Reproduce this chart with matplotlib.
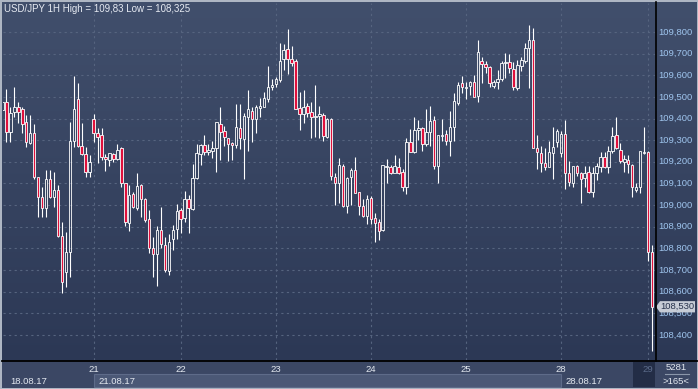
import numpy as np
import matplotlib
matplotlib.use("Agg")
import matplotlib.pyplot as plt
from matplotlib.patches import Rectangle, Polygon
from matplotlib.lines import Line2D
from matplotlib.transforms import blended_transform_factory

plt.rcParams['font.family'] = ['Liberation Sans', 'DejaVu Sans']

# hourly USD/JPY candles, 18.08.17 .. 29.08.17
opens = [
    109.440, 109.478, 109.339, 109.429, 109.452, 109.443, 109.383, 109.289, 109.332, 109.131, 109.036, 108.985,
    109.119, 109.036, 109.070, 108.859, 108.689, 108.785, 109.296, 109.489, 109.275, 109.235, 109.152,
    # 21
    109.396, 109.332, 109.324, 109.224, 109.209, 109.235, 109.212, 109.262, 109.101, 108.919, 109.050, 108.988,
    109.093, 109.027, 108.934, 108.800, 108.773, 108.885, 108.816, 108.697, 108.842, 108.888,
    # 22
    108.977, 108.939, 109.028, 108.982, 109.124, 109.236, 109.278, 109.244, 109.250, 109.266, 109.373, 109.343,
    109.309, 109.286, 109.278, 109.355, 109.304, 109.409, 109.435, 109.398, 109.450, 109.455, 109.492, 109.547,
    # 23
    109.560, 109.578, 109.674, 109.720, 109.674, 109.666, 109.447, 109.420, 109.458, 109.429, 109.409, 109.413,
    109.416, 109.313, 109.398, 109.132, 109.101, 109.182, 108.998, 109.128, 109.162, 109.059, 108.996, 108.951,
    # 24
    109.031, 108.939, 108.920, 108.885, 109.175, 109.175, 109.150, 109.175, 109.152, 109.085, 109.290, 109.247,
    109.347, 109.355, 109.282, 109.340, 109.393, 109.182, 109.321, 109.327, 109.298, 109.360, 109.473, 109.563,
    # 25
    109.543, 109.551, 109.567, 109.504, 109.668, 109.652, 109.637, 109.552, 109.571, 109.581, 109.655, 109.660,
    109.628, 109.540, 109.644, 109.668, 109.725, 109.763, 109.263, 109.239, 109.193, 109.178, 109.239, 109.293,
    # 28
    109.242, 109.329, 109.147, 109.104, 109.182, 109.147, 109.124, 109.152, 109.062, 109.147, 109.178, 109.224,
    109.178, 109.252, 109.324, 109.255, 109.201, 109.209, 109.185, 109.070, 109.082, 109.239,
    # 29
    109.244, 108.785,
]
highs = [
    109.478, 109.535, 109.455, 109.544, 109.478, 109.455, 109.416, 109.416, 109.375, 109.131, 109.085, 109.162,
    109.162, 109.152, 109.093, 108.924, 108.874, 109.386, 109.597, 109.566, 109.381, 109.267, 109.232,
    109.421, 109.355, 109.355, 109.235, 109.242, 109.239, 109.282, 109.270, 109.101, 109.093, 109.062, 109.147,
    109.098, 109.031, 108.977, 108.851, 108.904, 108.993, 108.854, 108.867, 108.908, 109.005,
    108.985, 109.065, 109.047, 109.190, 109.282, 109.282, 109.324, 109.282, 109.296, 109.383, 109.452, 109.367,
    109.309, 109.293, 109.467, 109.467, 109.424, 109.532, 109.455, 109.463, 109.494, 109.524, 109.643, 109.581,
    109.594, 109.748, 109.745, 109.812, 109.735, 109.674, 109.524, 109.532, 109.473, 109.478, 109.555, 109.458,
    109.427, 109.401, 109.401, 109.147, 109.219, 109.190, 109.132, 109.170, 109.224, 109.062, 109.028, 109.047,
    109.044, 108.965, 108.934, 109.185, 109.212, 109.185, 109.232, 109.216, 109.167, 109.309, 109.352, 109.406,
    109.393, 109.360, 109.443, 109.458, 109.412, 109.324, 109.398, 109.347, 109.435, 109.520, 109.571, 109.597,
    109.571, 109.574, 109.601, 109.763, 109.683, 109.668, 109.644, 109.578, 109.624, 109.668, 109.701, 109.697,
    109.663, 109.671, 109.686, 109.748, 109.832, 109.817, 109.324, 109.273, 109.263, 109.298, 109.360, 109.352,
    109.343, 109.393, 109.205, 109.182, 109.185, 109.155, 109.182, 109.182, 109.178, 109.193, 109.247, 109.247,
    109.273, 109.360, 109.409, 109.289, 109.232, 109.232, 109.190, 109.101, 109.252, 109.363,
    109.250, 108.816,
]
lows = [
    109.440, 109.293, 109.293, 109.406, 109.378, 109.335, 109.270, 109.282, 109.121, 108.944, 108.944, 108.944,
    109.031, 108.993, 108.854, 108.592, 108.623, 108.669, 109.267, 109.267, 109.232, 109.128, 109.128,
    109.293, 109.193, 109.209, 109.159, 109.181, 109.201, 109.209, 109.085, 108.905, 108.882, 108.985, 108.977,
    108.947, 108.924, 108.780, 108.669, 108.628, 108.803, 108.692, 108.677, 108.793, 108.842,
    108.873, 108.924, 108.873, 108.977, 109.121, 109.185, 109.232, 109.232, 109.216, 109.155, 109.209, 109.275,
    109.204, 109.209, 109.262, 109.259, 109.119, 109.252, 109.293, 109.332, 109.409, 109.452, 109.478, 109.532,
    109.547, 109.571, 109.624, 109.606, 109.644, 109.443, 109.347, 109.378, 109.409, 109.312, 109.316, 109.312,
    109.298, 109.309, 109.116, 109.001, 109.011, 108.993, 108.965, 109.001, 109.055, 108.954, 108.947, 108.913,
    108.913, 108.831, 108.839, 108.882, 109.104, 109.144, 109.147, 109.144, 109.067, 109.051, 109.244, 109.242,
    109.301, 109.252, 109.273, 109.273, 109.167, 109.104, 109.298, 109.278, 109.227, 109.298, 109.463, 109.520,
    109.492, 109.509, 109.498, 109.478, 109.566, 109.609, 109.544, 109.540, 109.537, 109.575, 109.586, 109.609,
    109.532, 109.532, 109.621, 109.655, 109.540, 109.263, 109.165, 109.155, 109.162, 109.175, 109.119, 109.270,
    109.224, 109.073, 109.088, 109.085, 109.135, 109.011, 109.085, 109.058, 109.039, 109.116, 109.155, 109.170,
    109.150, 109.242, 109.258, 109.193, 109.155, 109.150, 109.039, 109.062, 109.058, 109.236,
    108.743, 108.325,
]
closes = [
    109.478, 109.339, 109.424, 109.452, 109.432, 109.373, 109.290, 109.332, 109.128, 109.036, 108.985, 109.119,
    109.036, 109.070, 108.859, 108.643, 108.785, 109.296, 109.443, 109.275, 109.235, 109.152, 109.201,
    109.332, 109.313, 109.221, 109.212, 109.239, 109.212, 109.255, 109.101, 108.924, 109.047, 108.993, 109.088,
    109.027, 108.931, 108.800, 108.773, 108.885, 108.819, 108.700, 108.831, 108.885, 108.973,
    108.934, 109.028, 108.985, 109.124, 109.239, 109.278, 109.244, 109.255, 109.262, 109.383, 109.339, 109.313,
    109.282, 109.278, 109.360, 109.309, 109.412, 109.443, 109.396, 109.452, 109.458, 109.494, 109.544, 109.554,
    109.581, 109.668, 109.717, 109.674, 109.658, 109.443, 109.420, 109.452, 109.424, 109.409, 109.413, 109.420,
    109.321, 109.398, 109.135, 109.101, 109.185, 108.998, 109.124, 109.162, 109.058, 108.996, 108.951, 109.028,
    108.934, 108.916, 108.882, 109.185, 109.181, 109.150, 109.181, 109.150, 109.082, 109.290, 109.247, 109.347,
    109.355, 109.282, 109.336, 109.389, 109.182, 109.324, 109.324, 109.298, 109.360, 109.481, 109.555, 109.544,
    109.547, 109.567, 109.501, 109.706, 109.651, 109.637, 109.563, 109.571, 109.581, 109.658, 109.660, 109.632,
    109.547, 109.648, 109.671, 109.725, 109.763, 109.266, 109.244, 109.193, 109.178, 109.244, 109.267, 109.344,
    109.329, 109.147, 109.108, 109.181, 109.150, 109.119, 109.150, 109.062, 109.150, 109.181, 109.221, 109.175,
    109.252, 109.321, 109.263, 109.204, 109.213, 109.189, 109.082, 109.085, 109.250, 109.247,
    108.785, 108.530,
]

day_start = [23, 45, 69, 93, 117, 141, 163]
day_labels = ["21", "22", "23", "24", "25", "28", "29"]
week_start = [0, 23, 141]
week_labels = ["18.08.17", "21.08.17", "28.08.17"]
price_ticks = [108.4, 108.5, 108.6, 108.7, 108.8, 108.9, 109.0, 109.1,
               109.2, 109.3, 109.4, 109.5, 109.6, 109.7, 109.8]
last_price = closes[-1]

W, H = 698, 389
def box(x0, y0, x1, y1):
    return [x0 / W, 1 - y1 / H, (x1 - x0) / W, (y1 - y0) / H]

fig = plt.figure(figsize=(W / 100, H / 100), dpi=100)
fig.patch.set_facecolor('#aeb6c3')

# gradient background (plot + price scale)
bg = fig.add_axes(box(2, 2, 697, 361))
g = np.linspace(0, 1, 256)[:, None, None]
top = np.array([0x41, 0x4f, 0x6c]) / 255
bot = np.array([0x2c, 0x38, 0x55]) / 255
bg.imshow(top + (bot - top) * g, aspect='auto', extent=[0, 1, 0, 1])
bg.axis('off')

ax = fig.add_axes(box(3, 3, 655, 360))
ax.set_facecolor('none')
for s in ax.spines.values():
    s.set_visible(False)
ax.set_xticks([]); ax.set_yticks([])
ax.set_xlim(0.126, 164.75)
ax.set_ylim(108.284, 109.934)

grid_kw = dict(color='#56647f', lw=0.8, ls=(0, (2, 3)), zorder=1)
for p in price_ticks:
    ax.axhline(p, **grid_kw)
for d in day_start:
    ax.axvline(d, **grid_kw)

red = '#e0103c'
bw = 0.62
for i, (o, h, l, c) in enumerate(zip(opens, highs, lows, closes)):
    t, b = max(o, c), min(o, c)
    if t - b < 0.004:
        t = b + 0.004
    ax.vlines(i, t, h, color='white', lw=0.8, zorder=3)
    ax.vlines(i, l, b, color='white', lw=0.8, zorder=3)
    ax.add_patch(Rectangle((i - bw / 2, b), bw, t - b,
                           facecolor=red if c < o else 'none',
                           edgecolor='white', lw=0.6, zorder=4))

ax.text(1 / 652, 1 - 6 / 357, "USD/JPY 1H High = 109,83 Low = 108,325",
        transform=ax.transAxes, va='center', ha='left', fontsize=7, color='#e6eaf2')

# price scale
ty = blended_transform_factory(ax.transAxes, ax.transData)
for p in price_ticks:
    ax.text(1 + 3 / 652, p, f"{p:.3f}".replace('.', ','), transform=ty,
            va='center', ha='left', fontsize=6.8, color='#9fc5ee', clip_on=False)

# current price tag (covers the 108,500 label as in the terminal)
tag = Polygon([[1 + 1 / 652, last_price], [1 + 5 / 652, last_price + 0.026],
               [1 + 40 / 652, last_price + 0.026], [1 + 40 / 652, last_price - 0.026],
               [1 + 5 / 652, last_price - 0.026]], closed=True, transform=ty,
              facecolor='#c7ccd6', edgecolor='none', clip_on=False, zorder=6)
ax.add_patch(tag)
ax.text(1 + 5 / 652, last_price, f"{last_price:.3f}".replace('.', ','), transform=ty,
        va='center', ha='left', fontsize=6.8, color='#27324c', clip_on=False, zorder=7)

fig.add_artist(Line2D([655.5 / W] * 2, [1 - 361 / H, 1 - 2 / H], color='black', lw=1.2))

# time scale
tax = fig.add_axes(box(2, 361, 697, 388))
tax.axis('off')
tax.add_patch(Rectangle((0, 0), 1, 1, transform=tax.transAxes, color='#3b4764', zorder=0))
fig.add_artist(Line2D([2 / W, 697 / W], [1 - 361 / H] * 2, color='black', lw=1.3))

tx = blended_transform_factory(ax.transData, fig.transFigure)
y_row1 = 1 - 369 / H
y_row2 = 1 - 381 / H
fig.add_artist(Rectangle((week_start[1], 1 - 387 / H), week_start[2] - week_start[1], 13 / H,
                         transform=tx, facecolor='#4b5876', edgecolor='#5e6b89', lw=0.8))
for d, lab in zip(day_start[:-1], day_labels[:-1]):
    fig.text(d, y_row1, lab, transform=tx, ha='center', va='center', fontsize=6.8, color='#e3e8f0')
for k, (w, lab) in enumerate(zip(week_start, week_labels)):
    off = 2 if k == 0 else 1.2
    fig.text(w + off, y_row2, lab, transform=tx, ha='left', va='center', fontsize=6.8, color='#e3e8f0')

fig.add_artist(Rectangle((633 / W, 1 - 387 / H), 22 / W, 25 / H, transform=fig.transFigure,
                         facecolor='#232d46', edgecolor='none'))
fig.text(day_start[-1], y_row1, day_labels[-1], transform=tx, ha='center', va='center',
         fontsize=6.8, color='#5b6b8a')

fig.text(676 / W, 1 - 368 / H, "5281", ha='center', va='center', fontsize=6.8, color='#e3e8f0')
fig.add_artist(Line2D([665 / W, 689 / W], [1 - 374 / H] * 2, color='#8a96aa', lw=0.8))
fig.text(676 / W, 1 - 381 / H, ">165<", ha='center', va='center', fontsize=6.8, color='#e3e8f0')

fig.savefig("out.png", dpi=100, facecolor=fig.get_facecolor())
